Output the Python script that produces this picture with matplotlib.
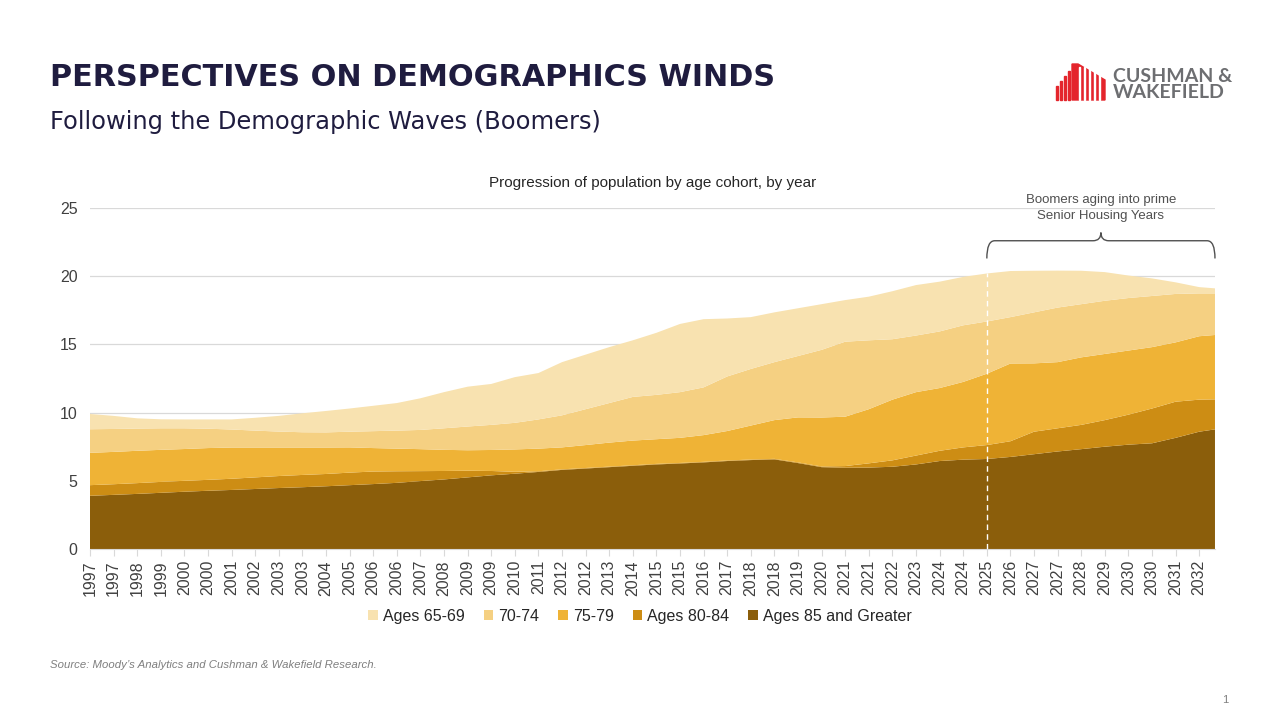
import numpy as np
import matplotlib
matplotlib.use("Agg")
import matplotlib.pyplot as plt
from matplotlib.patches import Rectangle, Polygon, PathPatch
from matplotlib.path import Path

# quarterly series 1997Q1..2032Q4, read every 3rd quarter (+ last quarter)
sample_q = list(range(0, 142, 3)) + [143]

ages_85 = [3.90, 3.97, 4.04, 4.12, 4.20, 4.27, 4.33, 4.40, 4.47, 4.53, 4.60, 4.68, 4.76, 4.85,
           4.98, 5.10, 5.25, 5.40, 5.52, 5.65, 5.80, 5.90, 6.00, 6.10, 6.20, 6.27, 6.35, 6.45,
           6.52, 6.57, 6.30, 6.00, 5.96, 5.97, 6.03, 6.20, 6.45, 6.55, 6.60, 6.75, 6.95, 7.15,
           7.32, 7.50, 7.65, 7.75, 8.15, 8.60, 8.77]
ages_80 = [0.78, 0.78, 0.79, 0.80, 0.80, 0.80, 0.82, 0.85, 0.88, 0.90, 0.90, 0.92, 0.92, 0.85,
           0.73, 0.62, 0.49, 0.32, 0.14, 0.05, 0.04, 0.04, 0.04, 0.04, 0.04, 0.04, 0.04, 0.04,
           0.04, 0.04, 0.05, 0.05, 0.12, 0.31, 0.47, 0.65, 0.75, 0.90, 1.02, 1.15, 1.65, 1.70,
           1.78, 1.95, 2.20, 2.55, 2.65, 2.35, 2.20]
ages_75 = [2.37, 2.37, 2.37, 2.35, 2.33, 2.33, 2.29, 2.19, 2.09, 2.01, 1.94, 1.85, 1.72, 1.66,
           1.61, 1.55, 1.50, 1.54, 1.64, 1.66, 1.61, 1.68, 1.76, 1.81, 1.81, 1.84, 1.96, 2.16,
           2.49, 2.84, 3.30, 3.59, 3.62, 3.97, 4.45, 4.65, 4.60, 4.80, 5.23, 5.70, 5.01, 4.85,
           4.95, 4.85, 4.70, 4.50, 4.35, 4.65, 4.72]
ages_70 = [1.73, 1.68, 1.63, 1.58, 1.52, 1.42, 1.32, 1.24, 1.17, 1.12, 1.11, 1.15, 1.24, 1.32,
           1.41, 1.58, 1.74, 1.84, 1.95, 2.14, 2.35, 2.63, 2.90, 3.20, 3.25, 3.35, 3.50, 4.00,
           4.15, 4.25, 4.50, 4.96, 5.50, 5.05, 4.43, 4.15, 4.15, 4.15, 3.83, 3.40, 3.74, 4.00,
           3.90, 3.90, 3.85, 3.75, 3.55, 3.14, 3.05]
ages_65 = [1.12, 0.96, 0.75, 0.66, 0.65, 0.68, 0.74, 0.94, 1.15, 1.39, 1.57, 1.70, 1.86, 2.02,
           2.32, 2.65, 2.92, 3.00, 3.35, 3.40, 3.90, 4.00, 4.10, 4.15, 4.55, 5.00, 5.00, 4.25,
           3.80, 3.65, 3.50, 3.35, 3.05, 3.20, 3.52, 3.70, 3.65, 3.55, 3.52, 3.38, 3.05, 2.71,
           2.45, 2.10, 1.65, 1.29, 0.85, 0.46, 0.37]

tick_labels = ["1997", "1997", "1998", "1999", "2000", "2000", "2001", "2002", "2003", "2003",
               "2004", "2005", "2006", "2006", "2007", "2008", "2009", "2009", "2010", "2011",
               "2012", "2012", "2013", "2014", "2015", "2015", "2016", "2017", "2018", "2018",
               "2019", "2020", "2021", "2021", "2022", "2023", "2024", "2024", "2025", "2026",
               "2027", "2027", "2028", "2029", "2030", "2030", "2031", "2032"]

labels = ["Ages 85 and Greater", "Ages 80-84", "75-79", "70-74", "Ages 65-69"]
colors = ["#8B5E0B", "#CD8D14", "#EFB336", "#F5D082", "#F8E2B0"]

navy = "#1F1C3F"
plt.rcParams["font.family"] = ["Liberation Sans", "DejaVu Sans"]

fig = plt.figure(figsize=(12.8, 7.2), dpi=100)
ax = fig.add_axes([0.0703, 0.2375, 0.8789, 0.4736])

polys = ax.stackplot(sample_q, ages_85, ages_80, ages_75, ages_70, ages_65,
                     colors=colors, labels=labels, linewidth=0, zorder=2)

# dashed marker at 2025
top_2025 = ages_85[38] + ages_80[38] + ages_75[38] + ages_70[38] + ages_65[38]
ax.plot([114, 114], [0, top_2025], color="white", lw=1, ls=(0, (4, 3)), zorder=3)

ax.set_xlim(0, 143)
ax.set_ylim(0, 25)
ax.set_yticks([0, 5, 10, 15, 20, 25])
ax.set_xticks(range(0, 142, 3))
ax.set_xticklabels(tick_labels, rotation=90)
ax.tick_params(axis="x", length=5, color="#d9d9d9", labelsize=11.5, labelcolor="#404040", pad=3)
ax.tick_params(axis="y", length=0, labelsize=11.5, labelcolor="#404040", pad=9)
ax.grid(axis="y", color="#d9d9d9", lw=0.9, zorder=0)
ax.set_axisbelow(True)
for s in ["top", "right", "left"]:
    ax.spines[s].set_visible(False)
ax.spines["bottom"].set_color("#d9d9d9")

ax.set_title("Progression of population by age cohort, by year", fontsize=11,
             color="#262626", pad=15)

# bracket annotation
x0, x1, xm = 114, 143, 128.5
yb, yh, yt = 21.3, 22.6, 23.2
verts = [(x0, yb), (x0, yh), (x0 + 1, yh), (xm - 1, yh), (xm, yh), (xm, yt),
         (xm, yh), (xm + 1, yh), (x1 - 1, yh), (x1, yh), (x1, yb)]
codes = [Path.MOVETO, Path.CURVE3, Path.CURVE3, Path.LINETO, Path.CURVE3, Path.CURVE3,
         Path.CURVE3, Path.CURVE3, Path.LINETO, Path.CURVE3, Path.CURVE3]
ax.add_patch(PathPatch(Path(verts, codes), fill=False, ec="#505050", lw=1, clip_on=False))
ax.text(xm, 25.0, "Boomers aging into prime\nSenior Housing Years", ha="center", va="center",
        fontsize=9.5, color="#505050", linespacing=1.4)

handles, labs = ax.get_legend_handles_labels()
fig.legend(handles[::-1], labs[::-1], loc="center", bbox_to_anchor=(0.5, 0.1444), ncol=5,
           frameon=False, prop={"family": "Liberation Sans", "size": 11.5},
           handlelength=0.6, handleheight=0.6,
           handletextpad=0.3, columnspacing=1.2, labelcolor="#262626")

# header
fig.text(50 / 1280, 1 - 78 / 720, "PERSPECTIVES ON DEMOGRAPHICS WINDS", fontsize=21.8,
         fontweight="bold", color=navy, va="center", family="DejaVu Sans")
fig.text(50 / 1280, 1 - 122 / 720, "Following the Demographic Waves (Boomers)", fontsize=17.4,
         color=navy, va="center", family="DejaVu Sans")
fig.text(50 / 1280, 1 - 665 / 720,
         "Source: Moody\u2019s Analytics and Cushman & Wakefield Research.",
         fontsize=8.2, style="italic", color="#7f7f7f", va="center")
fig.text(1225 / 1280, 1 - 700 / 720, "1", fontsize=8, color="#7f7f7f", ha="center", va="center")

# logo
def px(x, y):
    return (x / 1280, 1 - y / 720)

red = "#E4252C"
for bx, btop in [(1056, 86), (1060, 81), (1064, 76), (1068, 71)]:
    fig.add_artist(Rectangle(px(bx, 100), 2.4 / 1280, (100 - btop) / 720, color=red,
                             transform=fig.transFigure))
fig.add_artist(Polygon([px(1072, 100), px(1072, 64), px(1078, 64), px(1105, 80), px(1105, 100)],
                       closed=True, color=red, transform=fig.transFigure))
for lx in [1079, 1084, 1089, 1094, 1099]:
    fig.add_artist(Rectangle(px(lx, 100), 1.2 / 1280, 33 / 720, color="white",
                             transform=fig.transFigure))
fig.text(1113 / 1280, 1 - 76 / 720, "CUSHMAN &", fontsize=14, fontweight="bold",
         color="#6d6e71", va="center", family=["Lato", "DejaVu Sans"])
fig.text(1113 / 1280, 1 - 93 / 720, "WAKEFIELD", fontsize=14, fontweight="bold",
         color="#6d6e71", va="center", family=["Lato", "DejaVu Sans"])

fig.savefig("out.png", dpi=100, facecolor="white")
